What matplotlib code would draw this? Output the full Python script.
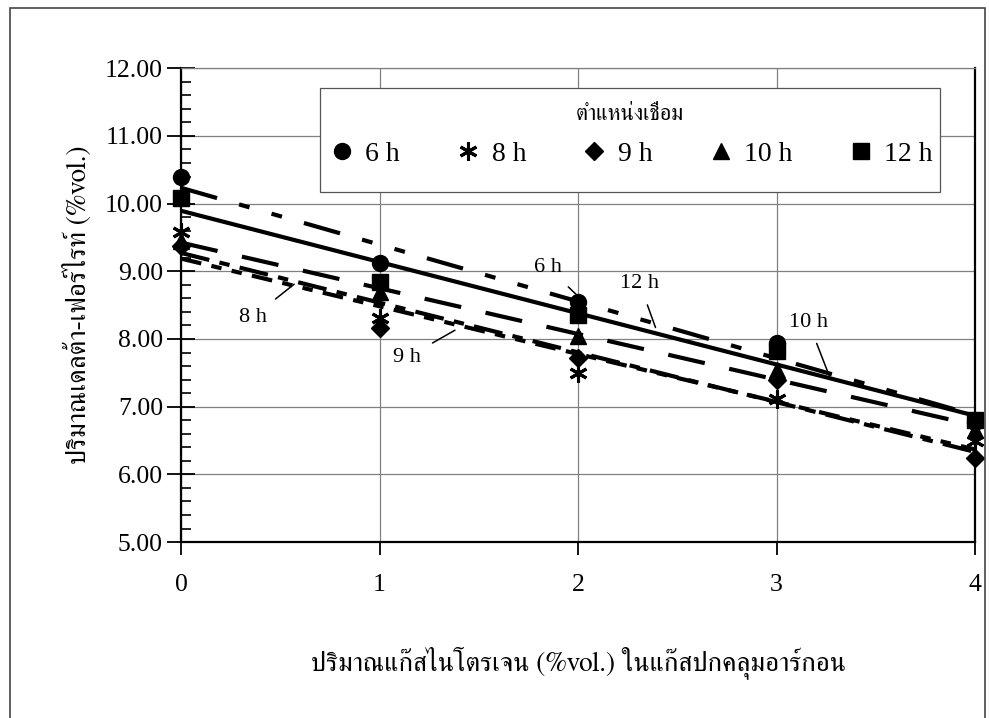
import matplotlib
matplotlib.use('Agg')
import matplotlib.pyplot as plt
from matplotlib import font_manager, ft2font
from matplotlib.lines import Line2D
from matplotlib.patches import Rectangle
from matplotlib.ticker import MultipleLocator, FormatStrFormatter
import numpy as np

# data
n2_pct = [0, 1, 2, 3, 4]
delta_6h = [10.39, 9.12, 8.54, 7.94, 6.78]
delta_8h = [9.58, 8.31, 7.50, 7.12, 6.50]
delta_9h = [9.38, 8.16, 7.72, 7.39, 6.24]
delta_10h = [9.45, 8.69, 8.04, 7.54, 6.65]
delta_12h = [10.08, 8.84, 8.35, 7.83, 6.80]
series_names = ['6 h', '8 h', '9 h', '10 h', '12 h']

legend_title = 'ตำแหน่งเชื่อม'
x_label = 'ปริมาณแก๊สไนโตรเจน (%vol.) ในแก๊สปกคลุมอาร์กอน'
y_label = 'ปริมาณเดลต้า-เฟอร์ไรท์ (%vol.)'


def find_thai_font():
    # pick an installed family that has Thai glyphs, serif if possible
    found = []
    for f in font_manager.fontManager.ttflist:
        try:
            cmap = ft2font.FT2Font(f.fname).get_charmap()
        except Exception:
            continue
        if 0x0E1B in cmap and 0x0E40 in cmap:
            found.append(f.name)
    if not found:
        return 'DejaVu Sans'
    for name in found:
        if 'Serif' in name:
            return name
    return found[0]


thai = find_thai_font()
serif = 'Liberation Serif'
thai_fam = [thai, serif, 'DejaVu Sans']

fig = plt.figure(figsize=(9.89, 7.18), dpi=100)
ax = fig.add_axes([0.183, 0.245, 0.803, 0.66])

# outer frame of the scanned page
fig.patches.append(Rectangle((0.0101, -0.01), 0.986, 0.999, transform=fig.transFigure,
                             fill=False, edgecolor='#444444', lw=1.2))

styles = [
    dict(marker='o', ms=11.5, ls=(0, (9, 5.5, 2.6, 5.5, 2.6, 5.5))),
    dict(marker=(6, 2, 0), ms=13, ls=(0, (7, 2.5, 2.5, 2.5))),
    dict(marker='D', ms=9, ls=(0, (5, 2.5, 2.5, 2.5, 2.5, 2.5))),
    dict(marker='^', ms=11.5, ls=(0, (9, 6))),
    dict(marker='s', ms=11, ls='-'),
]
all_series = [delta_6h, delta_8h, delta_9h, delta_10h, delta_12h]

xs = np.array(n2_pct, dtype=float)
xfit = np.array([xs.min(), xs.max()])
handles = []
for ys, st, name in zip(all_series, styles, series_names):
    k, b = np.polyfit(xs, ys, 1)
    ax.plot(xfit, k * xfit + b, color='black', lw=3.0, ls=st['ls'], zorder=2,
            solid_capstyle='butt', dash_capstyle='butt')
    ax.plot(xs, ys, ls='none', marker=st['marker'], ms=st['ms'], color='black',
            mec='black', mew=2.2 if st['marker'] == (6, 2, 0) else 1, zorder=3,
            clip_on=False)
    handles.append(Line2D([], [], ls='none', marker=st['marker'], color='black',
                          ms=st['ms'], mew=2.2 if st['marker'] == (6, 2, 0) else 1,
                          label=name))

ax.set_xlim(0, 4)
ax.set_ylim(5, 12)
ax.xaxis.set_major_locator(MultipleLocator(1))
ax.yaxis.set_major_locator(MultipleLocator(1))
ax.yaxis.set_minor_locator(MultipleLocator(0.2))
ax.yaxis.set_major_formatter(FormatStrFormatter('%.2f'))
ax.grid(True, which='major', color='#808080', lw=0.9)
ax.set_axisbelow(True)

for side in ['left', 'bottom', 'right']:
    ax.spines[side].set_color('black')
    ax.spines[side].set_linewidth(1.6)
ax.spines['top'].set_color('#808080')
ax.spines['top'].set_linewidth(0.9)

ax.tick_params(axis='y', which='major', direction='inout', length=20, width=1.3,
               labelsize=18.5, pad=3)
ax.tick_params(axis='y', which='minor', direction='in', length=7, width=1.2)
ax.tick_params(axis='x', which='major', direction='out', length=9, width=1.3,
               labelsize=18.5, pad=14)
for lab in ax.get_xticklabels() + ax.get_yticklabels():
    lab.set_fontfamily(serif)

ax.set_xlabel(x_label, fontsize=19.5, family=thai_fam, labelpad=36)
ax.set_ylabel(y_label, fontsize=19.5, family=thai_fam, labelpad=9)

# labels on the trend lines
notes = [
    ('6 h', (1.85, 9.05), (1.99, 8.66)),
    ('12 h', (2.31, 8.82), (2.39, 8.17)),
    ('10 h', (3.16, 8.25), (3.27, 7.42)),
    ('8 h', (0.36, 8.32), (0.57, 8.81)),
    ('9 h', (1.14, 7.73), (1.38, 8.13)),
]
for txt, pos, tip in notes:
    ax.annotate(txt, xy=tip, xytext=pos, ha='center', va='center', fontsize=16,
                family=serif, zorder=6,
                arrowprops=dict(arrowstyle='-', color='black', lw=1.1,
                                shrinkA=7, shrinkB=0))

# legend box
ax.add_patch(Rectangle((0.175, 0.738), 0.781, 0.22, transform=ax.transAxes,
                       facecolor='white', edgecolor='#555555', lw=0.9, zorder=4.5))
leg = ax.legend(handles=handles, loc='upper center', bbox_to_anchor=(0.565, 0.975),
                ncol=5, frameon=False, title=legend_title,
                title_fontproperties=font_manager.FontProperties(family=thai_fam, size=16),
                prop=font_manager.FontProperties(family=serif, size=20),
                columnspacing=1.9, handletextpad=0.3, handlelength=1.1,
                labelspacing=0.6, borderpad=0.4)
leg.set_zorder(5)

fig.savefig('out.png', dpi=100, facecolor='white')
